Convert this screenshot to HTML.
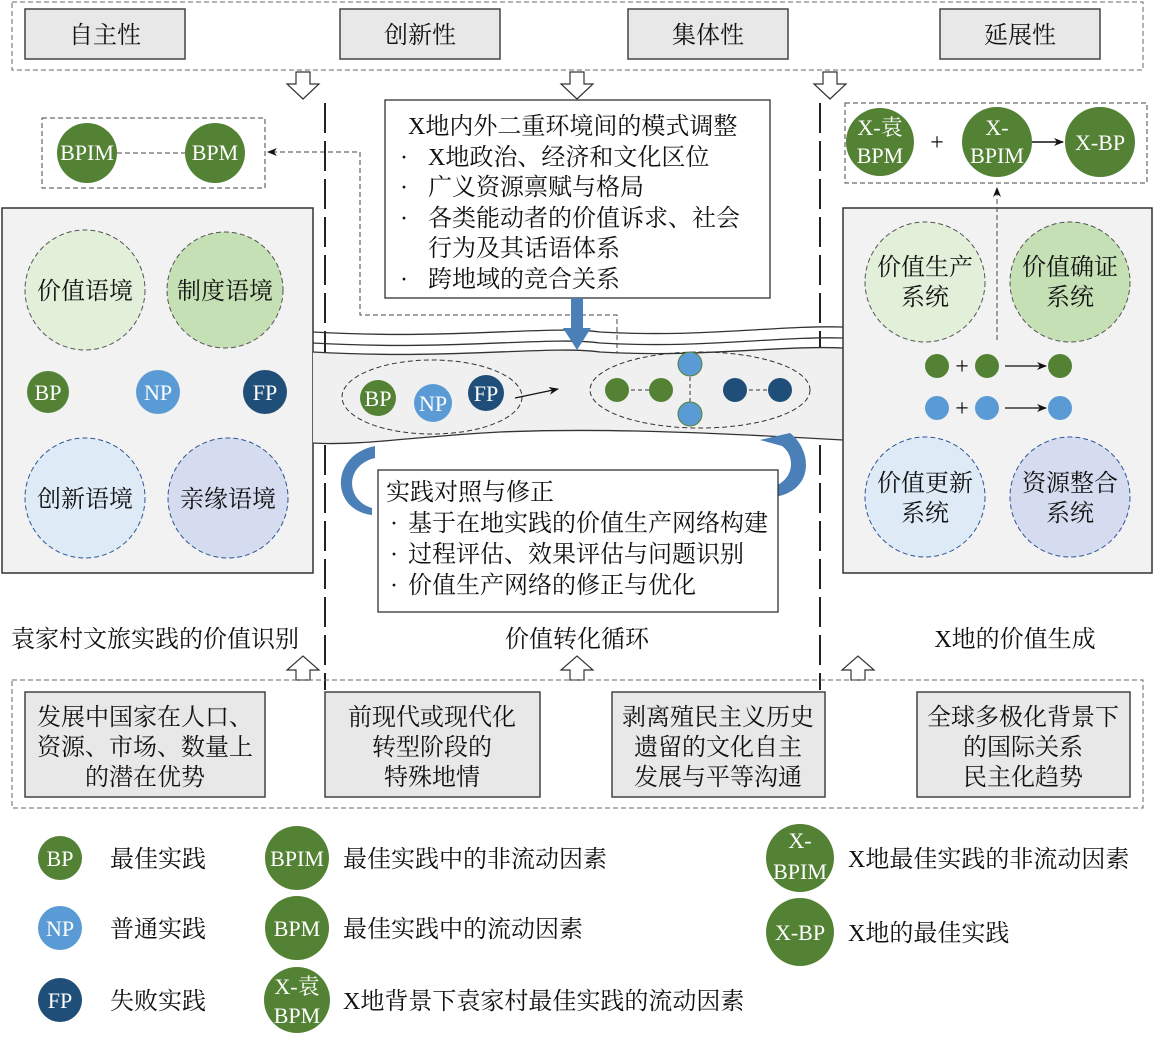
<!DOCTYPE html>
<html><head><meta charset="utf-8"><style>
body{margin:0;background:#fff;}
svg{display:block;font-family:"Liberation Serif","Noto Serif CJK SC",serif;}
</style></head><body>
<svg width="1155" height="1039" viewBox="0 0 1155 1039" xmlns="http://www.w3.org/2000/svg">
<defs>
<marker id="ah" markerWidth="10" markerHeight="8" refX="9" refY="4" orient="auto" markerUnits="userSpaceOnUse"><path d="M0,0 L10,4 L0,8 L3,4 Z" fill="#111"/></marker>
</defs>
<rect x="12" y="2" width="1131" height="68" fill="none" stroke="#666" stroke-dasharray="5,3"/>
<g fill="#e8e8e8" stroke="#444" stroke-width="1.5">
<rect x="25" y="9" width="160" height="50"/><rect x="340" y="9" width="160" height="50"/>
<rect x="628" y="9" width="160" height="50"/><rect x="940" y="9" width="160" height="50"/>
</g>
<g font-size="24" text-anchor="middle" fill="#111">
<text x="105" y="43">自主性</text><text x="420" y="43">创新性</text><text x="708" y="43">集体性</text><text x="1020" y="43">延展性</text>
</g>
<g fill="#fff" stroke="#333" stroke-width="1.2">
<path d="M296,72 h14 v12 h9 l-16,15 l-16,-15 h9 z"/>
<path d="M570,72 h14 v12 h9 l-16,15 l-16,-15 h9 z"/>
<path d="M823,72 h14 v12 h9 l-16,15 l-16,-15 h9 z"/>
</g>
<g stroke="#222" stroke-width="2" stroke-dasharray="30,8">
<line x1="325" y1="103" x2="325" y2="690"/><line x1="820" y1="103" x2="820" y2="690"/>
</g>
<rect x="42" y="118" width="223" height="70" fill="none" stroke="#444" stroke-dasharray="5,3"/>
<line x1="117" y1="153" x2="185" y2="153" stroke="#444" stroke-dasharray="5,3"/>
<circle cx="87" cy="153" r="30" fill="#548235"/><circle cx="215" cy="153" r="30" fill="#548235"/>
<g font-size="22" fill="#fff" text-anchor="middle"><text x="87" y="160">BPIM</text><text x="215" y="160">BPM</text></g>
<path d="M617,388 V315 H360 V152 H268" fill="none" stroke="#444" stroke-dasharray="5,3" marker-end="url(#ah)"/>
<rect x="2" y="208" width="311" height="365" fill="#f2f2f2" stroke="#333" stroke-width="1.5"/>
<circle cx="85" cy="290" r="60" fill="#e2efd9" stroke="#555" stroke-dasharray="5,3"/>
<circle cx="225" cy="290" r="58" fill="#c5e0b4" stroke="#555" stroke-dasharray="5,3"/>
<circle cx="85" cy="498" r="60" fill="#deebf7" stroke="#2e5597" stroke-dasharray="5,3"/>
<circle cx="228" cy="498" r="60" fill="#d6dcf0" stroke="#2e5597" stroke-dasharray="5,3"/>
<circle cx="48" cy="392" r="21" fill="#548235"/><circle cx="158" cy="392" r="22" fill="#5b9bd5"/><circle cx="265" cy="392" r="22" fill="#1f4e79"/>
<g font-size="24" text-anchor="middle" fill="#111">
<text x="85" y="299">价值语境</text><text x="225" y="299">制度语境</text><text x="85" y="507">创新语境</text><text x="228" y="507">亲缘语境</text>
</g>
<g font-size="22" text-anchor="middle" fill="#fff"><text x="48" y="400">BP</text><text x="158" y="400">NP</text><text x="265" y="400">FP</text></g>
<path d="M313,352 C450,360 550,345 600,352 C700,358 780,345 843,348 L843,440 C700,432 600,428 500,432 C420,436 360,446 313,443 Z" fill="#f0f0f0" stroke="none"/>
<g fill="none" stroke="#333" stroke-width="1.3">
<path d="M313,332 C450,340 550,325 600,332 C700,338 780,325 843,327"/>
<path d="M313,343 C450,351 550,336 600,343 C700,349 780,336 843,338"/>
<path d="M313,352 C450,360 550,345 600,352 C700,358 780,345 843,348"/>
<path d="M313,443 C360,446 420,436 500,432 C600,428 700,432 843,440"/>
</g>
<rect x="385" y="100" width="385" height="198" fill="#fff" stroke="#333" stroke-width="1.3"/>
<g font-size="24" fill="#111">
<text x="408" y="134">X地内外二重环境间的模式调整</text>
<text x="400" y="165">·</text><text x="428" y="165">X地政治、经济和文化区位</text>
<text x="400" y="195">·</text><text x="428" y="195">广义资源禀赋与格局</text>
<text x="400" y="226">·</text><text x="428" y="226">各类能动者的价值诉求、社会</text>
<text x="428" y="256">行为及其话语体系</text>
<text x="400" y="287">·</text><text x="428" y="287">跨地域的竞合关系</text>
</g>
<path d="M571,298 h12 v30 h8 l-14,22 l-14,-22 h8 z" fill="#4a7fb8"/>
<ellipse cx="432" cy="397" rx="90" ry="37" fill="none" stroke="#333" stroke-dasharray="5,3"/>
<circle cx="378" cy="398" r="18" fill="#548235"/><circle cx="433" cy="403" r="19" fill="#5b9bd5"/><circle cx="486" cy="393" r="18" fill="#1f4e79"/>
<g font-size="22" text-anchor="middle" fill="#fff"><text x="378" y="406">BP</text><text x="433" y="411">NP</text><text x="486" y="401">FP</text></g>
<line x1="515" y1="398" x2="558" y2="389" stroke="#111" stroke-width="1.3" marker-end="url(#ah)"/>
<ellipse cx="700" cy="390" rx="110" ry="38" fill="none" stroke="#333" stroke-dasharray="5,3"/>
<g stroke="#333" stroke-dasharray="4,3"><line x1="617" y1="390" x2="663" y2="390"/><line x1="690" y1="363" x2="690" y2="415"/><line x1="735" y1="390" x2="780" y2="390"/></g>
<circle cx="617" cy="390" r="12" fill="#548235"/><circle cx="661" cy="390" r="12" fill="#548235"/>
<circle cx="690" cy="364" r="12" fill="#5b9bd5" stroke="#548235"/><circle cx="690" cy="414" r="12" fill="#5b9bd5" stroke="#548235"/>
<circle cx="735" cy="390" r="12" fill="#1f4e79"/><circle cx="780" cy="390" r="12" fill="#1f4e79"/>
<path d="M375,446 C330,455 330,510 372,515 L372,508 C345,500 345,465 375,458 Z" fill="#4a7fb8"/>
<path d="M760,440 L790,433 C812,450 815,490 775,497 L775,486 C795,478 795,455 782,446 Z" fill="#4a7fb8"/>
<rect x="378" y="470" width="400" height="142" fill="#fff" stroke="#333" stroke-width="1.3"/>
<g font-size="24" fill="#111">
<text x="386" y="500">实践对照与修正</text>
<text x="390" y="531">·</text><text x="408" y="531">基于在地实践的价值生产网络构建</text>
<text x="390" y="562">·</text><text x="408" y="562">过程评估、效果评估与问题识别</text>
<text x="390" y="593">·</text><text x="408" y="593">价值生产网络的修正与优化</text>
</g>
<rect x="845" y="103" width="302" height="80" fill="none" stroke="#444" stroke-dasharray="5,3"/>
<circle cx="880" cy="142" r="34" fill="#548235"/><circle cx="997" cy="142" r="35" fill="#548235"/><circle cx="1100" cy="142" r="35" fill="#548235"/>
<text x="937" y="150" font-size="24" text-anchor="middle" fill="#111">+</text>
<line x1="1032" y1="142" x2="1063" y2="142" stroke="#111" stroke-width="1.5" marker-end="url(#ah)"/>
<g font-size="22" text-anchor="middle" fill="#fff">
<text x="880" y="135">X-袁</text><text x="880" y="163">BPM</text>
<text x="997" y="135">X-</text><text x="997" y="163">BPIM</text>
<text x="1100" y="150">X-BP</text></g>
<rect x="843" y="208" width="309" height="365" fill="#f2f2f2" stroke="#333" stroke-width="1.5"/>
<circle cx="925" cy="282" r="60" fill="#e2efd9" stroke="#555" stroke-dasharray="5,3"/>
<circle cx="1070" cy="282" r="60" fill="#c5e0b4" stroke="#555" stroke-dasharray="5,3"/>
<circle cx="925" cy="497" r="60" fill="#deebf7" stroke="#2e5597" stroke-dasharray="5,3"/>
<circle cx="1070" cy="497" r="60" fill="#d6dcf0" stroke="#2e5597" stroke-dasharray="5,3"/>
<line x1="997" y1="340" x2="997" y2="188" stroke="#444" stroke-dasharray="5,3" marker-end="url(#ah)"/>
<g font-size="24" text-anchor="middle" fill="#111">
<text x="925" y="275">价值生产</text><text x="925" y="305">系统</text>
<text x="1070" y="275">价值确证</text><text x="1070" y="305">系统</text>
<text x="925" y="491">价值更新</text><text x="925" y="521">系统</text>
<text x="1070" y="491">资源整合</text><text x="1070" y="521">系统</text>
<text x="962" y="374">+</text><text x="962" y="416">+</text>
</g>
<circle cx="937" cy="366" r="12" fill="#548235"/><circle cx="987" cy="366" r="12" fill="#548235"/><circle cx="1060" cy="366" r="12" fill="#548235"/>
<circle cx="937" cy="408" r="12" fill="#5b9bd5"/><circle cx="987" cy="408" r="12" fill="#5b9bd5"/><circle cx="1060" cy="408" r="12" fill="#5b9bd5"/>
<line x1="1005" y1="366" x2="1046" y2="366" stroke="#111" stroke-width="1.3" marker-end="url(#ah)"/>
<line x1="1005" y1="408" x2="1046" y2="408" stroke="#111" stroke-width="1.3" marker-end="url(#ah)"/>
<g font-size="24" text-anchor="middle" fill="#111">
<text x="155" y="647">袁家村文旅实践的价值识别</text><text x="577" y="647">价值转化循环</text><text x="1015" y="647">X地的价值生成</text>
</g>
<g fill="#fff" stroke="#333" stroke-width="1.2">
<path d="M296,680 h14 v-10 h9 l-16,-14 l-16,14 h9 z"/>
<path d="M570,680 h14 v-10 h9 l-16,-14 l-16,14 h9 z"/>
<path d="M851,680 h14 v-10 h9 l-16,-14 l-16,14 h9 z"/>
</g>
<rect x="12" y="680" width="1131" height="128" fill="none" stroke="#666" stroke-dasharray="5,3"/>
<g fill="#e8e8e8" stroke="#444" stroke-width="1.5">
<rect x="25" y="692" width="240" height="105"/><rect x="325" y="692" width="215" height="105"/>
<rect x="612" y="692" width="213" height="105"/><rect x="917" y="692" width="213" height="105"/>
</g>
<g font-size="24" text-anchor="middle" fill="#111">
<text x="145" y="725">发展中国家在人口、</text><text x="145" y="755">资源、市场、数量上</text><text x="145" y="785">的潜在优势</text>
<text x="432" y="725">前现代或现代化</text><text x="432" y="755">转型阶段的</text><text x="432" y="785">特殊地情</text>
<text x="718" y="725">剥离殖民主义历史</text><text x="718" y="755">遗留的文化自主</text><text x="718" y="785">发展与平等沟通</text>
<text x="1023" y="725">全球多极化背景下</text><text x="1023" y="755">的国际关系</text><text x="1023" y="785">民主化趋势</text>
</g>
<circle cx="60" cy="858" r="22" fill="#548235"/><circle cx="60" cy="928" r="22" fill="#5b9bd5"/><circle cx="60" cy="1000" r="22" fill="#1f4e79"/>
<circle cx="297" cy="858" r="32" fill="#548235"/><circle cx="297" cy="928" r="32" fill="#548235"/><circle cx="297" cy="1000" r="33" fill="#548235"/>
<circle cx="800" cy="858" r="34" fill="#548235"/><circle cx="800" cy="932" r="34" fill="#548235"/>
<g font-size="22" text-anchor="middle" fill="#fff">
<text x="60" y="866">BP</text><text x="60" y="936">NP</text><text x="60" y="1008">FP</text>
<text x="297" y="866">BPIM</text><text x="297" y="936">BPM</text>
<text x="297" y="994">X-袁</text><text x="297" y="1023">BPM</text>
<text x="800" y="848">X-</text><text x="800" y="879">BPIM</text><text x="800" y="940">X-BP</text>
</g>
<g font-size="24" fill="#111">
<text x="110" y="867">最佳实践</text><text x="110" y="937">普通实践</text><text x="110" y="1009">失败实践</text>
<text x="343" y="867">最佳实践中的非流动因素</text><text x="343" y="937">最佳实践中的流动因素</text><text x="343" y="1009">X地背景下袁家村最佳实践的流动因素</text>
<text x="848" y="867">X地最佳实践的非流动因素</text><text x="848" y="941">X地的最佳实践</text>
</g>
</svg>
</body></html>
